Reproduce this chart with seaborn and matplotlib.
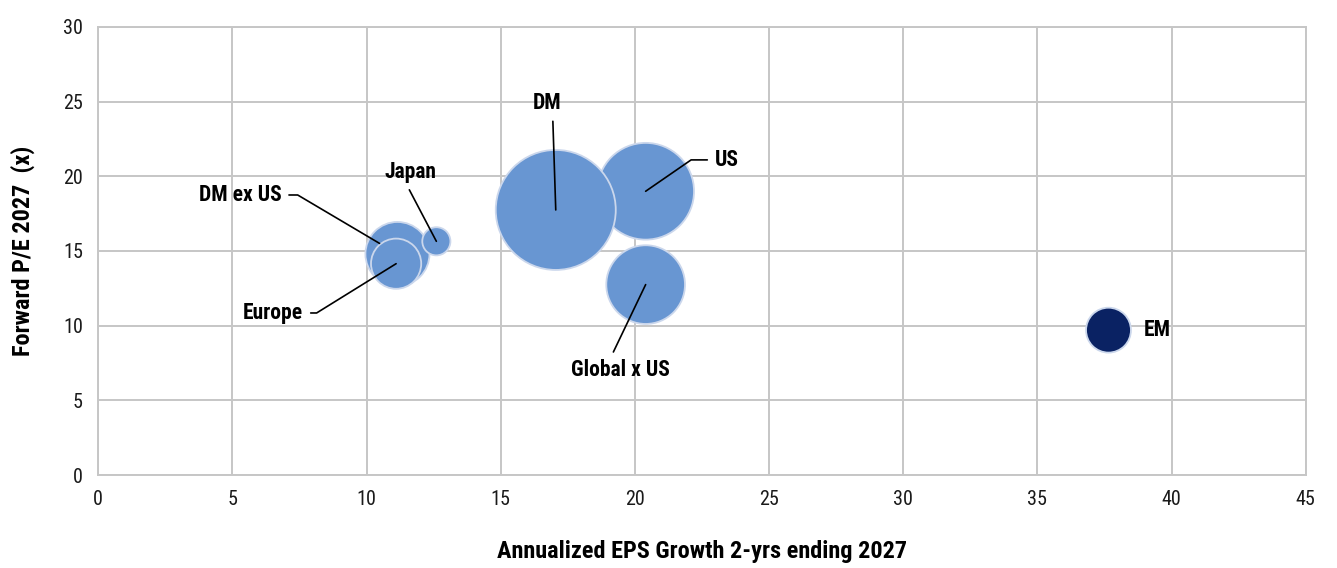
import pandas as pd
import matplotlib.pyplot as plt
import seaborn as sns

# bubble data
regions = ['US', 'Global x US', 'DM', 'DM ex US', 'Europe', 'Japan', 'EM']
eps_growth = [20.4, 20.4, 17.05, 11.15, 11.1, 12.6, 37.65]
forward_pe = [19.0, 12.75, 17.75, 14.8, 14.15, 15.65, 9.7]
mkt_weight = [65, 43, 100, 28.5, 17.5, 5.5, 14]
group = ['DM', 'DM', 'DM', 'DM', 'DM', 'DM', 'EM']

# label placement (data coords) and leader-line settings
label_pos = {
    'DM': (16.72, 24.92),
    'US': (23.42, 21.1),
    'Japan': (11.65, 20.3),
    'DM ex US': (5.29, 18.75),
    'Europe': (6.52, 10.85),
    'Global x US': (19.44, 7.03),
}
leader_style = {
    'DM': dict(relpos=(0.7, 0.0), connectionstyle='arc3'),
    'US': dict(relpos=(0.5, 0.5), connectionstyle='angle,angleA=0,angleB=34.6,rad=0'),
    'Japan': dict(relpos=(0.4, 0.0), connectionstyle='arc3'),
    'DM ex US': dict(relpos=(0.5, 0.5), connectionstyle='angle,angleA=0,angleB=-30.6,rad=0', shrinkB=15),
    'Europe': dict(relpos=(0.5, 0.5), connectionstyle='angle,angleA=0,angleB=31.8,rad=0'),
    'Global x US': dict(relpos=(0.4, 1.0), connectionstyle='arc3'),
}

FONT = ['Liberation Sans Narrow', 'Roboto Condensed', 'DejaVu Sans']

def main():
    df = pd.DataFrame({'region': regions, 'eps': eps_growth, 'pe': forward_pe,
                       'weight': mkt_weight, 'group': group})

    sns.set_style('white')
    plt.rcParams['font.family'] = FONT

    fig = plt.figure(figsize=(13.37, 5.68), dpi=100)
    ax = fig.add_axes([0.0735, 0.1637, 0.9031, 0.7888])

    sns.scatterplot(data=df, x='eps', y='pe', size='weight', hue='group',
                    palette={'DM': '#6896D2', 'EM': '#0A2263'},
                    sizes=(0, 7465), size_norm=(0, 100),
                    edgecolor='#CBD7EC', linewidth=1.3, alpha=1,
                    legend=False, ax=ax, zorder=3, clip_on=False)

    ax.set_xlim(0, 45)
    ax.set_ylim(0, 30)
    ax.set_xticks(range(0, 46, 5))
    ax.set_yticks(range(0, 31, 5))
    ax.grid(True, color='#C6C6C6', linewidth=1.4)
    ax.set_axisbelow(True)
    for sp in ax.spines.values():
        sp.set_color('#C6C6C6')
        sp.set_linewidth(1.4)
    ax.tick_params(length=0, labelsize=14.5, pad=11, colors='#1a1a1a')

    ax.set_xlabel('Annualized EPS Growth 2-yrs ending 2027', fontsize=17.5,
                  fontweight='bold', labelpad=22, color='black')
    ax.set_ylabel('Forward P/E 2027  (x)', fontsize=17.5, fontweight='bold',
                  labelpad=20, color='black')

    for _, row in df.iterrows():
        name = row['region']
        if name in label_pos:
            st = leader_style[name]
            ax.annotate(name, xy=(row['eps'], row['pe']), xytext=label_pos[name],
                        ha='center', va='center', fontsize=15.5, fontweight='bold',
                        color='black', zorder=5,
                        arrowprops=dict(arrowstyle='-', color='black', lw=1.2,
                                        relpos=st['relpos'],
                                        connectionstyle=st['connectionstyle'],
                                        shrinkA=3, shrinkB=st.get('shrinkB', 0)))
        else:
            ax.text(row['eps'] + 1.32, row['pe'], name, ha='left', va='center',
                    fontsize=15.5, fontweight='bold', color='black', zorder=5)

    fig.savefig('out.png', dpi=100)
    plt.close(fig)

if __name__ == '__main__':
    main()
